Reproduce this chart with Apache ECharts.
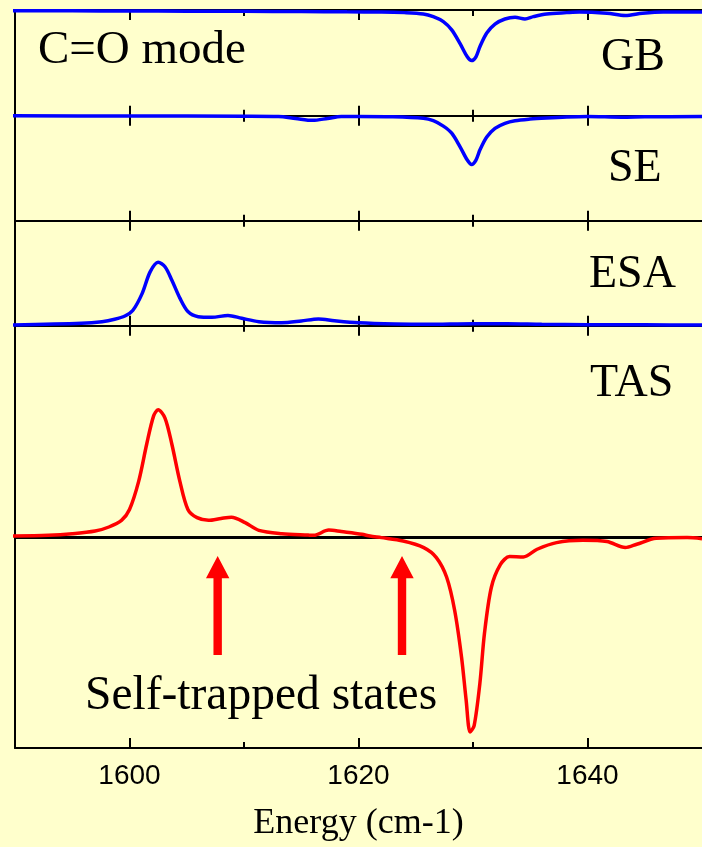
<!DOCTYPE html>
<html>
<head>
<meta charset="utf-8">
<script src="https://cdn.jsdelivr.net/npm/echarts@6.0.0/dist/echarts.min.js"></script>
<style>
  html, body { margin: 0; padding: 0; background: #ffffcc; }
  #chart { width: 702px; height: 847px; }
</style>
</head>
<body>
<div id="chart"></div>
<script>
// Energy axis (cm-1)
const energyMin = 1590;
const energyMax = 1650;
const majorTicks = [1600, 1620, 1640];
const minorTicks = [1610, 1630];

const panelNames = ['GB', 'SE', 'ESA', 'TAS'];
const modeLabel = 'C=O mode';
const arrowLabel = 'Self-trapped states';
const axisTitle = 'Energy (cm-1)';

// Ground-state bleach, [energy, signal]
const gbData = [
  [1589.6, 0.02], [1595, 0.018], [1600, 0.015], [1605, 0.012], [1610, 0.01],
  [1615, 0.006], [1619, 0.002], [1622, 0], [1624, -0.01], [1625.66, -0.031],
  [1626.53, -0.073], [1627.41, -0.15], [1628.14, -0.28], [1628.86, -0.49],
  [1629.5, -0.70], [1629.88, -0.76], [1630.26, -0.70], [1630.61, -0.54],
  [1631.2, -0.33], [1631.92, -0.19], [1632.79, -0.11], [1633.67, -0.083],
  [1634.54, -0.11], [1635.27, -0.073], [1636.43, -0.031], [1638.18, -0.01],
  [1639.3, 0], [1641.7, -0.02], [1643.3, -0.055], [1644.8, -0.02],
  [1646.6, 0], [1650, 0]
];

// Stimulated emission
const seData = [
  [1589.6, 0.01], [1600, 0.008], [1610, 0.004], [1613, 0], [1614.5, -0.03],
  [1616, -0.06], [1617.3, -0.03], [1618.5, 0], [1620, 0], [1623, -0.005],
  [1625.66, -0.028], [1626.53, -0.065], [1627.41, -0.15], [1628.14, -0.26],
  [1628.86, -0.47], [1629.5, -0.68], [1629.88, -0.75], [1630.26, -0.68],
  [1630.61, -0.52], [1631.2, -0.32], [1631.92, -0.185], [1632.79, -0.106],
  [1633.67, -0.065], [1634.97, -0.04], [1636.43, -0.023], [1638.18, -0.008],
  [1640, 0], [1643, -0.01], [1645, -0.005], [1650, 0]
];

// Excited-state absorption
const esaData = [
  [1589.6, 0], [1595.8, 0.027], [1597.6, 0.052], [1598.7, 0.089],
  [1599.6, 0.14], [1600.3, 0.23], [1601.1, 0.49], [1601.8, 0.83],
  [1602.5, 0.98], [1603.1, 0.91], [1603.7, 0.70], [1604.4, 0.42],
  [1605.1, 0.21], [1606.0, 0.13], [1607.2, 0.12], [1608.6, 0.15],
  [1609.8, 0.105], [1611.3, 0.052], [1613.3, 0.036], [1615.0, 0.063],
  [1616.5, 0.094], [1617.9, 0.067], [1620.0, 0.036], [1623.2, 0.016],
  [1626, 0.01], [1630, 0.02], [1633, 0.02], [1636, 0.01], [1640, 0.005],
  [1645, 0.003], [1650, 0]
];

// Transient absorption spectrum
const tasData = [
  [1589.6, 0.012], [1592.9, 0.018], [1595, 0.03], [1597.0, 0.051],
  [1598.2, 0.083], [1599.3, 0.135], [1600.0, 0.22], [1600.8, 0.44],
  [1601.5, 0.73], [1602.1, 0.95], [1602.5, 1.0], [1603.1, 0.935],
  [1603.7, 0.73], [1604.4, 0.44], [1605.1, 0.22], [1605.9, 0.156],
  [1606.9, 0.135], [1608.0, 0.15], [1608.9, 0.16], [1610.1, 0.117],
  [1611.3, 0.057], [1613.3, 0.031], [1615.6, 0.02], [1616.1, 0.018],
  [1617.4, 0.059], [1618.5, 0.047], [1620.3, 0.026], [1621.0, 0.012],
  [1622.0, 0.0], [1623.9, -0.026], [1625.7, -0.078], [1626.8, -0.156],
  [1627.7, -0.31], [1628.4, -0.57], [1629.0, -0.935], [1629.4, -1.27],
  [1629.75, -1.52], [1630.1, -1.47], [1630.6, -1.14], [1631.0, -0.75],
  [1631.6, -0.39], [1632.4, -0.21], [1633.2, -0.148], [1634.4, -0.151],
  [1635.6, -0.091], [1637.3, -0.039], [1639.6, -0.021], [1641.7, -0.031],
  [1643.3, -0.078], [1644.3, -0.052], [1646.0, -0.005], [1648.7, 0],
  [1650, -0.008]
];
const tasBaseline = [[energyMin, 0], [energyMax, 0]];

// Energies marked by the arrows
const arrowEnergies = [1607.7, 1623.8];

const seriesData = [gbData, seData, esaData, tasData];

// Stacked panel layout
const panels = [
  { top: 10,    height: 105.7, yMin: -1.621, yMax: 0.031, color: '#0000ff', lx: 601, ly: 58.3 },
  { top: 115.7, height: 105,   yMin: -1.628, yMax: 0.0125, color: '#0000ff', lx: 608, ly: 169.2 },
  { top: 220.7, height: 105,   yMin: -0.011, yMax: 1.63,  color: '#0000ff', lx: 589, ly: 275 },
  { top: 325.7, height: 423.6, yMin: -1.645, yMax: 1.657, color: '#ff0000', lx: 590, ly: 384.2 }
];

const BLACK = '#000000';
const serif = '"Liberation Serif", "Times New Roman", serif';
const sans = '"Liberation Sans", Arial, sans-serif';

function edgeAxis(gridIndex, position, ticks, len, showLine, withLabels) {
  return {
    type: 'value', gridIndex, position,
    min: energyMin, max: energyMax,
    axisLine: { show: showLine, onZero: false, lineStyle: { color: BLACK, width: 2 } },
    axisTick: { show: true, inside: true, length: len, customValues: ticks,
                lineStyle: { color: BLACK, width: 2 } },
    axisLabel: withLabels
      ? { show: true, customValues: ticks, color: BLACK, fontSize: 28, fontFamily: sans,
          margin: 14, formatter: v => String(v) }
      : { show: false },
    splitLine: { show: false },
    name: withLabels ? axisTitle : '',
    nameLocation: 'middle',
    nameGap: 58,
    nameTextStyle: { color: BLACK, fontSize: 36, fontFamily: serif }
  };
}

const grids = [], xAxes = [], yAxes = [], series = [];
panels.forEach((p, i) => {
  grids.push({ left: 15, right: 0, top: p.top, height: p.height, containLabel: false });
  const last = i === panels.length - 1;
  xAxes.push(edgeAxis(i, 'bottom', majorTicks, 10, true, last));
  xAxes.push(edgeAxis(i, 'bottom', minorTicks, 6, false, false));
  xAxes.push(edgeAxis(i, 'top', majorTicks, 10, true, false));
  xAxes.push(edgeAxis(i, 'top', minorTicks, 6, false, false));
  yAxes.push({
    type: 'value', gridIndex: i, min: p.yMin, max: p.yMax,
    axisLine: { show: true, onZero: false, lineStyle: { color: BLACK, width: 2 } },
    axisTick: { show: false }, axisLabel: { show: false }, splitLine: { show: false }
  });
  series.push({
    name: panelNames[i], type: 'line',
    xAxisIndex: 4 * i, yAxisIndex: i,
    data: seriesData[i], symbol: 'none', smooth: 0.3,
    clip: false, z: 3,
    lineStyle: { color: p.color, width: 3.5 }
  });
});

// Zero line of the TAS panel
series.push({
  type: 'line', xAxisIndex: 12, yAxisIndex: 3, data: tasBaseline,
  symbol: 'none', z: 1, silent: true,
  lineStyle: { color: BLACK, width: 3 }
});

const chart = echarts.init(document.getElementById('chart'), null, { renderer: 'canvas' });
chart.setOption({
  backgroundColor: '#ffffcc',
  animation: false,
  grid: grids, xAxis: xAxes, yAxis: yAxes, series
});

function textEl(str, x, y, size) {
  return {
    type: 'text', x, y, silent: true,
    style: { text: str, font: size + 'px ' + serif, fill: BLACK,
             textAlign: 'left', textVerticalAlign: 'middle', align: 'left', verticalAlign: 'middle' }
  };
}

const graphics = [];
graphics.push(textEl(modeLabel, 38, 50.8, 47));
panels.forEach((p, i) => graphics.push(textEl(panelNames[i], p.lx, p.ly, 46)));
graphics.push(textEl(arrowLabel, 85, 696.7, 47.5));

// Upward arrows pointing at the self-trapped states
arrowEnergies.forEach(e => {
  const cx = chart.convertToPixel({ xAxisIndex: 12 }, e);
  const tip = 556, base = 578.3, tail = 655, head = 11.7, shaft = 4.2;
  graphics.push({
    type: 'polygon', silent: true, z: 10,
    shape: { points: [
      [cx, tip], [cx + head, base], [cx + shaft, base], [cx + shaft, tail],
      [cx - shaft, tail], [cx - shaft, base], [cx - head, base]
    ] },
    style: { fill: '#ff0000' }
  });
});

chart.setOption({ graphic: graphics });
</script>
</body>
</html>
